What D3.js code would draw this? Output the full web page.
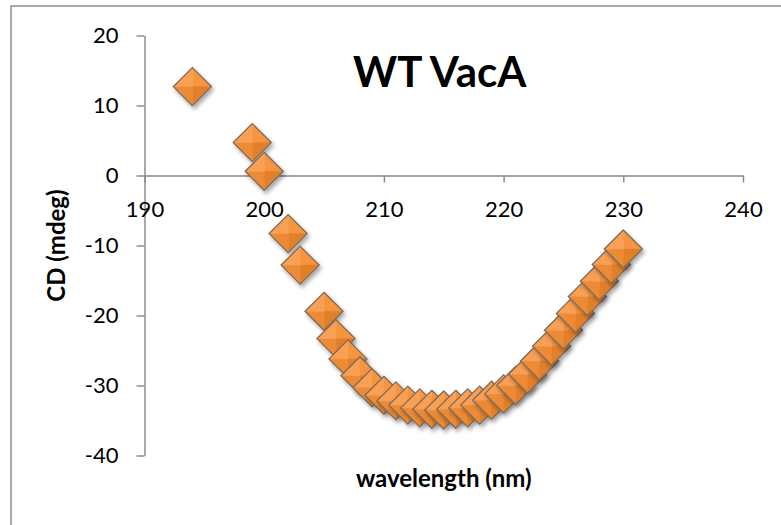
<!DOCTYPE html>
<html>
<head>
<meta charset="utf-8">
<script src="https://cdn.jsdelivr.net/npm/d3@7"></script>
<style>
body { margin: 0; background: #fff; }
text { font-family: Lato, "Open Sans", sans-serif; }
</style>
</head>
<body>
<div id="chart"></div>
<script>
// wavelength (nm) and CD (mdeg)
var wavelengths = [194, 199, 200, 202, 203, 205, 206, 207, 208, 209, 210, 211, 212, 213, 214, 215, 216, 217, 218, 219, 220, 221, 222, 223, 224, 225, 226, 227, 228, 229, 230];
var cdValues = [12.7, 4.7, 0.6, -8.3, -12.8, -19.4, -23.3, -26.2, -28.6, -30.3, -31.4, -32.2, -32.8, -33.2, -33.4, -33.5, -33.4, -33.2, -32.8, -32.1, -31.2, -30.0, -28.4, -26.5, -24.4, -22.1, -19.7, -17.3, -15.1, -12.7, -10.5];
var xTicks = [190, 200, 210, 220, 230, 240];
var yTicks = [20, 10, 0, -10, -20, -30, -40];
var chartTitle = "WT VacA";
var xTitle = "wavelength (nm)";
var yTitle = "CD (mdeg)";

var width = 781, height = 525;
var axisColor = "#868686";

var svg = d3.select("#chart").append("svg")
    .attr("width", width)
    .attr("height", height);

// drop shadow for the markers
var defs = svg.append("defs");
var shadow = defs.append("filter")
    .attr("id", "shadow")
    .attr("x", "-50%").attr("y", "-50%")
    .attr("width", "200%").attr("height", "200%");
shadow.append("feDropShadow")
    .attr("dx", 2)
    .attr("dy", 3)
    .attr("stdDeviation", 2.2)
    .attr("flood-color", "#000")
    .attr("flood-opacity", 0.35);

// chart area border (only left and top are in view)
svg.append("rect")
    .attr("x", 11)
    .attr("y", 6)
    .attr("width", 900)
    .attr("height", 700)
    .attr("fill", "none")
    .attr("stroke", axisColor)
    .attr("stroke-width", 1.4);

var xScale = d3.scaleLinear()
    .domain([190, 240])
    .range([144.5, 743]);

var yScale = d3.scaleLinear()
    .domain([-40, 20])
    .range([455.5, 35.5]);

// y axis
svg.append("g")
    .attr("transform", "translate(" + xScale(190) + ",0)")
    .call(d3.axisLeft(yScale)
        .tickValues(yTicks)
        .tickSize(8)
        .tickSizeOuter(0)
        .tickPadding(18)
        .tickFormat(function (d) { return String(d); }));

// x axis crosses at 0
svg.append("g")
    .attr("transform", "translate(0," + yScale(0) + ")")
    .call(d3.axisBottom(xScale)
        .tickValues(xTicks)
        .tickSize(7)
        .tickSizeOuter(0)
        .tickPadding(19)
        .tickFormat(function (d) { return String(d); }));

svg.selectAll(".domain, .tick line")
    .attr("stroke", axisColor)
    .attr("stroke-width", 1.4);

svg.selectAll(".tick text")
    .attr("fill", "#000")
    .style("font-size", "22px")
    .style("font-family", "Lato, 'Open Sans', sans-serif");

// markers: orange pyramid diamonds
var r = 19;
var facets = [
    {pts: [[0, -r], [r, 0], [0, 0]], fill: "#F7943F"},
    {pts: [[r, 0], [0, r], [0, 0]], fill: "#E2802C"},
    {pts: [[0, r], [-r, 0], [0, 0]], fill: "#EC8A34"},
    {pts: [[-r, 0], [0, -r], [0, 0]], fill: "#F9A055"}
];

var points = wavelengths.map(function (w, i) {
    return {x: w, y: cdValues[i]};
});

var markers = svg.append("g").selectAll("g")
    .data(points)
    .enter().append("g")
    .attr("transform", function (d) {
        return "translate(" + xScale(d.x) + "," + yScale(d.y) + ")";
    })
    .attr("filter", "url(#shadow)");

facets.forEach(function (f) {
    markers.append("path")
        .attr("d", "M" + f.pts.join("L") + "Z")
        .attr("fill", f.fill)
        .attr("stroke", f.fill)
        .attr("stroke-width", 0.5);
});

markers.append("path")
    .attr("d", "M0," + (-r) + "L" + r + ",0L0," + r + "L" + (-r) + ",0Z")
    .attr("fill", "none")
    .attr("stroke", "#7E6A58")
    .attr("stroke-width", 1.3);

// titles
svg.append("text")
    .attr("x", 353)
    .attr("y", 87)
    .text(chartTitle)
    .attr("fill", "#000")
    .style("font-size", "42px")
    .style("font-weight", "bold");

svg.append("text")
    .attr("x", (xScale(190) + xScale(240)) / 2)
    .attr("y", 487)
    .attr("text-anchor", "middle")
    .text(xTitle)
    .attr("fill", "#000")
    .style("font-size", "24px")
    .style("font-weight", "bold");

svg.append("text")
    .attr("transform", "translate(65," + (yScale(20) + yScale(-40)) / 2 + ") rotate(-90)")
    .attr("text-anchor", "middle")
    .text(yTitle)
    .attr("fill", "#000")
    .style("font-size", "24px")
    .style("font-weight", "bold");
</script>
</body>
</html>
